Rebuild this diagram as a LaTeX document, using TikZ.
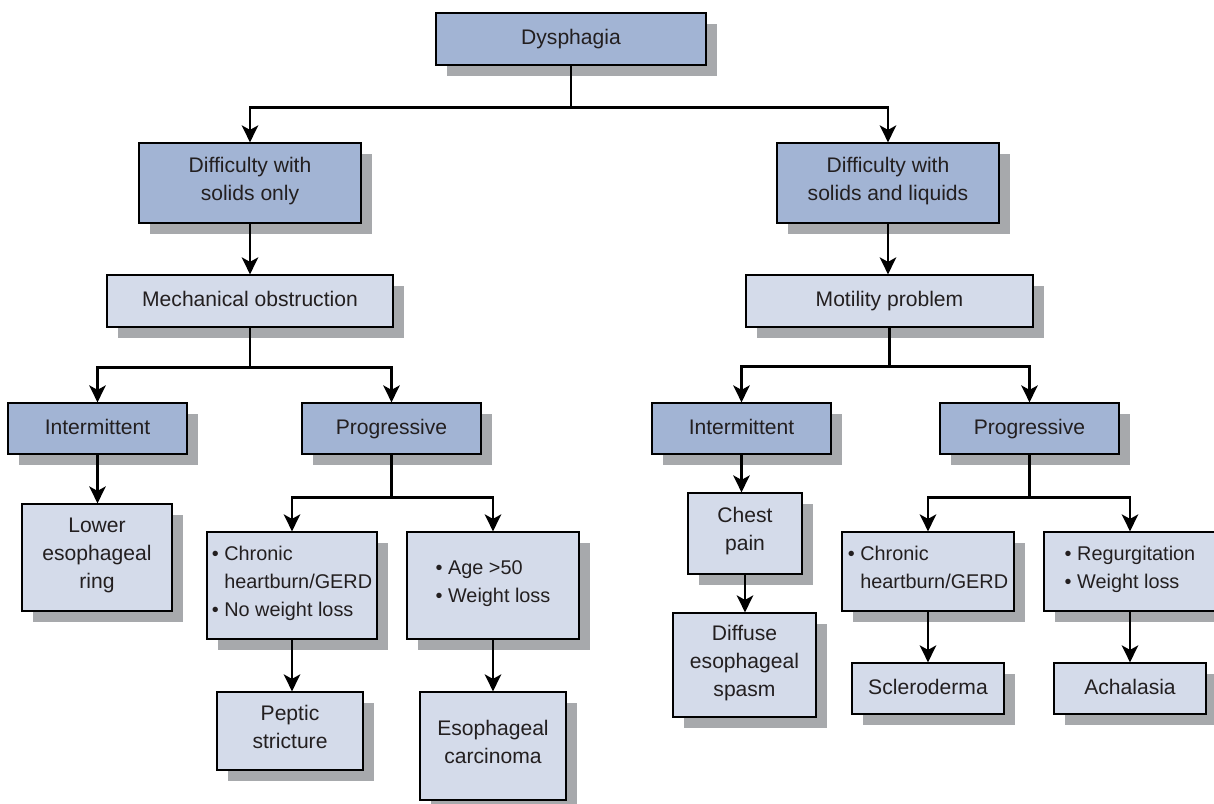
\documentclass[tikz,border=0pt]{standalone}
\usepackage{fontspec}
\setmainfont{Liberation Sans}
\usetikzlibrary{arrows.meta,shadows,positioning}

\definecolor{darkfill}{RGB}{162,180,212}
\definecolor{lightfill}{RGB}{212,219,234}
\definecolor{shadegray}{RGB}{167,169,172}
\definecolor{ink}{RGB}{35,31,32}

\tikzset{
  box/.style={draw=black, line width=0.7pt, text=ink, align=center, inner sep=2pt,
    font=\fontsize{12}{15.9}\selectfont,
    execute at begin node={\strut}, execute at end node={\strut},
    drop shadow={shadow xshift=0.22cm, shadow yshift=-0.22cm, fill=shadegray, opacity=1}},
  headbox/.style={box, fill=darkfill},
  leafbox/.style={box, fill=lightfill},
  listbox/.style={leafbox, align=left, font=\fontsize{11.3}{15.9}\selectfont},
  link/.style={line width=1.3pt},
  linkarr/.style={link, -{Stealth[length=3.4mm, width=3.3mm, inset=0.9mm]}},
}

\begin{document}
\begin{tikzpicture}[x=0.02cm, y=-0.02cm]
 \clip (0,0) rectangle (1214,804);

 \node[headbox, minimum width=5.4cm, minimum height=1.04cm] (dys) at (571,39) {Dysphagia};
 \node[headbox, minimum width=4.44cm, minimum height=1.6cm] (solid) at (250,183) {Difficulty with\\solids only};
 \node[headbox, minimum width=4.44cm, minimum height=1.6cm] (liquid) at (888,183) {Difficulty with\\solids and liquids};
 \node[leafbox, minimum width=5.72cm, minimum height=1.04cm] (mech) at (250,301) {Mechanical obstruction};
 \node[leafbox, minimum width=5.74cm, minimum height=1.04cm] (motil) at (889.5,301) {Motility problem};

 \node[headbox, minimum width=3.58cm, minimum height=1.02cm] (intL) at (97.5,428.5) {Intermittent};
 \node[headbox, minimum width=3.58cm, minimum height=1.02cm] (progL) at (391.5,428.5) {Progressive};
 \node[headbox, minimum width=3.58cm, minimum height=1.02cm] (intR) at (741.5,428.5) {Intermittent};
 \node[headbox, minimum width=3.58cm, minimum height=1.02cm] (progR) at (1029.5,428.5) {Progressive};

 \node[leafbox, minimum width=3.0cm, minimum height=2.14cm] (ring) at (97,557.5) {Lower\\esophageal\\ring};
 \node[listbox, minimum width=3.4cm, minimum height=2.14cm] (chronL) at (292,585.5)
   {\textbullet\ Chronic\\\phantom{\textbullet\ }heartburn/GERD\\\textbullet\ No weight loss};
 \node[listbox, minimum width=3.44cm, minimum height=2.14cm] (age) at (493,585.5)
   {\textbullet\ Age >50\\\textbullet\ Weight loss};
 \node[leafbox, minimum width=2.92cm, minimum height=1.56cm] (peptic) at (290,731) {Peptic\\stricture};
 \node[leafbox, minimum width=2.92cm, minimum height=2.16cm] (carc) at (493,746) {Esophageal\\carcinoma};

 \node[leafbox, minimum width=2.28cm, minimum height=1.62cm] (chest) at (745,533.5) {Chest\\pain};
 \node[leafbox, minimum width=2.86cm, minimum height=2.08cm] (spasm) at (744.5,665) {Diffuse\\esophageal\\spasm};
 \node[listbox, minimum width=3.44cm, minimum height=1.58cm] (chronR) at (928,571.5)
   {\textbullet\ Chronic\\\phantom{\textbullet\ }heartburn/GERD};
 \node[listbox, minimum width=3.44cm, minimum height=1.58cm] (regurg) at (1130,571.5)
   {\textbullet\ Regurgitation\\\textbullet\ Weight loss};
 \node[leafbox, minimum width=3.04cm, minimum height=1.02cm] (sclero) at (928,688.5) {Scleroderma};
 \node[leafbox, minimum width=3.04cm, minimum height=1.02cm] (achal) at (1130,688.5) {Achalasia};

 \draw[link] (dys.south) -- ++(0,42) coordinate (j0);
 \draw[linkarr] (j0) -| (solid);
 \draw[linkarr] (j0) -| (liquid);
 \draw[linkarr] (solid.south) -- (solid.south |- mech.north);
 \draw[linkarr] (liquid.south) -- (liquid.south |- motil.north);

 \draw[link] (mech.south) -- ++(0,40) coordinate (j1);
 \draw[linkarr] (j1) -| (intL);
 \draw[linkarr] (j1) -| (progL);
 \draw[linkarr] (intL.south) -- (intL.south |- ring.north);
 \draw[link] (progL.south) -- ++(0,43) coordinate (j2);
 \draw[linkarr] (j2) -| (chronL);
 \draw[linkarr] (j2) -| (age);
 \draw[linkarr] (chronL.south) -- (chronL.south |- peptic.north);
 \draw[linkarr] (age.south) -- (age.south |- carc.north);

 \draw[link] (motil.south) -- ++(0,39) coordinate (j3);
 \draw[linkarr] (j3) -| (intR);
 \draw[linkarr] (j3) -| (progR);
 \draw[linkarr] (intR.south) -- (intR.south |- chest.north);
 \draw[linkarr] (chest.south) -- (chest.south |- spasm.north);
 \draw[link] (progR.south) -- ++(0,43) coordinate (j4);
 \draw[linkarr] (j4) -| (chronR);
 \draw[linkarr] (j4) -| (regurg);
 \draw[linkarr] (chronR.south) -- (chronR.south |- sclero.north);
 \draw[linkarr] (regurg.south) -- (regurg.south |- achal.north);
\end{tikzpicture}
\end{document}
